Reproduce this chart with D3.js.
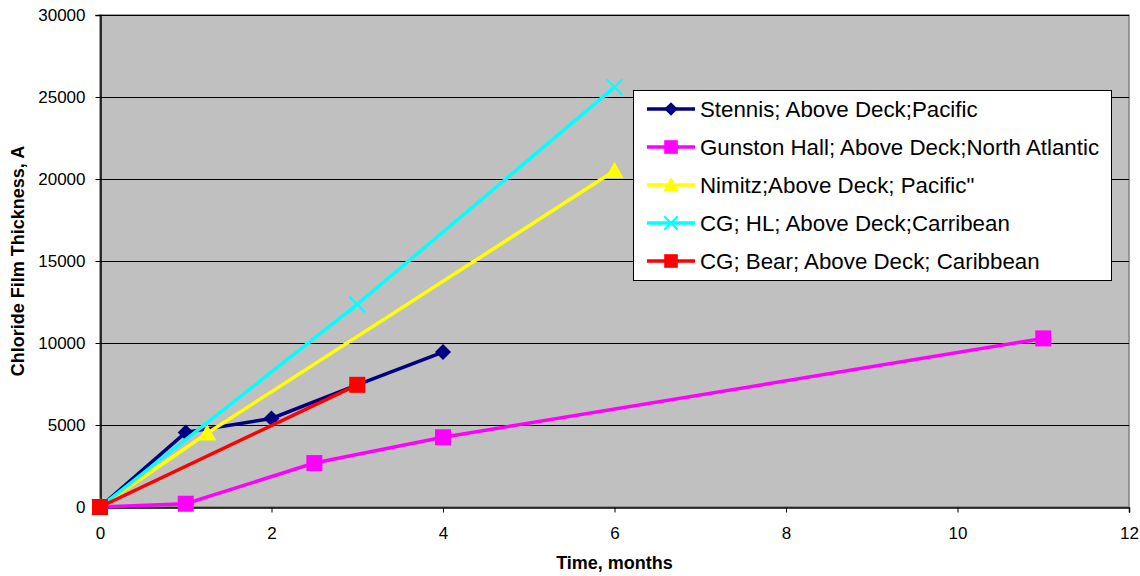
<!DOCTYPE html>
<html>
<head>
<meta charset="utf-8">
<script src="https://cdn.jsdelivr.net/npm/d3@7"></script>
<style>
  html, body { margin: 0; padding: 0; background: #fff; }
  text { font-family: "Liberation Sans", Arial, sans-serif; }
</style>
</head>
<body>
<svg id="chart" width="1140" height="576"></svg>
<script>
// Chloride film thickness measurements by months of exposure
const seriesNames = [
  "Stennis; Above Deck;Pacific",
  "Gunston Hall; Above Deck;North Atlantic",
  "Nimitz;Above Deck; Pacific\"",
  "CG; HL; Above Deck;Carribean",
  "CG; Bear; Above Deck; Caribbean"
];
const seriesColors = ["#000080", "#FF00FF", "#FFFF00", "#00FFFF", "#FF0000"];
const seriesMarkers = ["diamond", "square", "triangle", "cross", "square"];

const stennisX = [0, 1, 2, 3, 4];
const stennisY = [0, 4550, 5400, 7450, 9450];
const gunstonX = [0, 1, 2.5, 4, 11];
const gunstonY = [0, 200, 2680, 4250, 10280];
const nimitzX = [0, 1.25, 6];
const nimitzY = [0, 4500, 20500];
const cgHlX = [0, 3, 6];
const cgHlY = [0, 12350, 25600];
const cgBearX = [0, 3];
const cgBearY = [0, 7450];

const xTicks = [0, 2, 4, 6, 8, 10, 12];
const yTicks = [0, 5000, 10000, 15000, 20000, 25000, 30000];

const seriesData = [
  [stennisX, stennisY],
  [gunstonX, gunstonY],
  [nimitzX, nimitzY],
  [cgHlX, cgHlY],
  [cgBearX, cgBearY]
].map(([xs, ys]) => xs.map((x, i) => ({ x, y: ys[i] })));

const svg = d3.select("#chart");
const plot = { left: 100, top: 15, right: 1129, bottom: 507 };

const x = d3.scaleLinear().domain([0, 12]).range([plot.left, plot.right]);
const y = d3.scaleLinear().domain([0, 30000]).range([plot.bottom, plot.top]);

// plot background
svg.append("rect")
  .attr("x", plot.left).attr("y", plot.top)
  .attr("width", plot.right - plot.left).attr("height", plot.bottom - plot.top)
  .attr("fill", "#C0C0C0")
  .attr("stroke", "#808080").attr("stroke-width", 1.5);

// horizontal gridlines
svg.append("g").selectAll("line")
  .data(yTicks.filter(t => t > 0))
  .join("line")
  .attr("x1", plot.left).attr("x2", plot.right)
  .attr("y1", d => y(d) + 0.5).attr("y2", d => y(d) + 0.5)
  .attr("stroke", "#000").attr("stroke-width", 1);

// axes
const yAxis = svg.append("g")
  .attr("transform", `translate(${plot.left + 0.5},0)`)
  .call(d3.axisLeft(y).tickValues(yTicks).tickSize(5).tickPadding(10).tickFormat(d3.format("d")));
const xAxis = svg.append("g")
  .attr("transform", `translate(0,${plot.bottom + 0.5})`)
  .call(d3.axisBottom(x).tickValues(xTicks).tickSize(5).tickPadding(14).tickFormat(d3.format("d")));

[yAxis, xAxis].forEach(g => {
  g.select(".domain").attr("stroke", "#000").attr("stroke-width", 1.5);
  g.selectAll(".tick line").attr("stroke", "#000");
  g.selectAll(".tick text")
    .attr("font-family", "'Liberation Sans', Arial, sans-serif")
    .attr("font-size", 17).attr("fill", "#000");
});

// axis titles
svg.append("text")
  .attr("x", (plot.left + plot.right) / 2).attr("y", 569)
  .attr("text-anchor", "middle")
  .attr("font-size", 18).attr("font-weight", "bold")
  .text("Time, months");
svg.append("text")
  .attr("transform", `translate(24,${(plot.top + plot.bottom) / 2}) rotate(-90)`)
  .attr("text-anchor", "middle")
  .attr("font-size", 18).attr("font-weight", "bold")
  .text("Chloride Film Thickness, A");

// marker drawing
function drawMarker(g, type, color, cx, cy, scale) {
  const s = scale || 1;
  if (type === "diamond") {
    const r = 8 * s;
    g.append("path")
      .attr("d", `M${cx},${cy - r}L${cx + r},${cy}L${cx},${cy + r}L${cx - r},${cy}Z`)
      .attr("fill", color);
  } else if (type === "square") {
    const r = 8 * s;
    g.append("rect")
      .attr("x", cx - r).attr("y", cy - r)
      .attr("width", 2 * r).attr("height", 2 * r)
      .attr("fill", color);
  } else if (type === "triangle") {
    const r = 9 * s;
    g.append("path")
      .attr("d", `M${cx},${cy - r}L${cx + r},${cy + r * 0.8}L${cx - r},${cy + r * 0.8}Z`)
      .attr("fill", color);
  } else if (type === "cross") {
    const r = 8 * s;
    g.append("path")
      .attr("d", `M${cx - r},${cy - r}L${cx + r},${cy + r}M${cx + r},${cy - r}L${cx - r},${cy + r}`)
      .attr("stroke", color).attr("stroke-width", 2).attr("fill", "none");
  }
}

const line = d3.line().x(d => x(d.x)).y(d => y(d.y));
const marks = svg.append("g");
seriesData.forEach((data, i) => {
  const g = marks.append("g");
  g.append("path")
    .datum(data)
    .attr("d", line)
    .attr("fill", "none")
    .attr("stroke", seriesColors[i])
    .attr("stroke-width", 3.5);
  data.forEach(d => drawMarker(g, seriesMarkers[i], seriesColors[i], x(d.x), y(d.y)));
});

// legend
const legend = svg.append("g");
const lg = { x: 633, y: 90, w: 478, h: 190 };
legend.append("rect")
  .attr("x", lg.x + 0.5).attr("y", lg.y + 0.5)
  .attr("width", lg.w).attr("height", lg.h)
  .attr("fill", "#fff").attr("stroke", "#000").attr("stroke-width", 1);
seriesNames.forEach((name, i) => {
  const cy = lg.y + 19 + i * 38;
  legend.append("line")
    .attr("x1", lg.x + 14).attr("x2", lg.x + 62)
    .attr("y1", cy).attr("y2", cy)
    .attr("stroke", seriesColors[i]).attr("stroke-width", 3.5);
  drawMarker(legend, seriesMarkers[i], seriesColors[i], lg.x + 38, cy, 0.85);
  legend.append("text")
    .attr("x", lg.x + 67).attr("y", cy + 7.5)
    .attr("font-size", 22.3)
    .attr("fill", "#000")
    .text(name);
});
</script>
</body>
</html>
